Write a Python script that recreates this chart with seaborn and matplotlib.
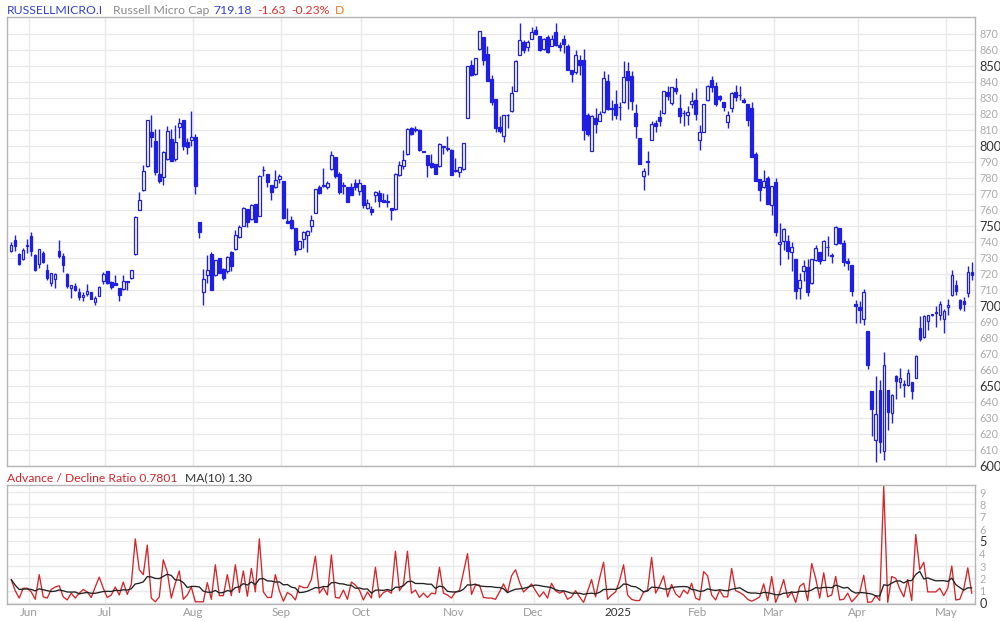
import numpy as np
import pandas as pd
import matplotlib
matplotlib.use("Agg")
import matplotlib.pyplot as plt
import seaborn as sns

sns.set_style("white")
plt.rcParams["font.family"] = ["Lato", "DejaVu Sans"]

# ---------------- data ----------------
session_start = "2024-05-24"
session_end = "2025-05-09"
market_holidays = ["2024-05-27", "2024-06-19", "2024-07-04", "2024-09-02", "2024-11-28",
                   "2024-12-25", "2025-01-01", "2025-01-09", "2025-01-20", "2025-02-17"]

opens = [734.6, 741.5, 732.7, 729.4, 737.5, 743.5, 732.1, 726.3, 733.1, 722.7,
         714.4, 716.9, 734.6, 731.5, 720.2, 711.3, 712.7, 709.0, 705.6, 707.3,
         708.8, 702.5, 706.5, 715.8, 721.7, 714.8, 714.4, 711.3, 710.6, 715.4,
         717.5, 732.5, 759.8, 772.7, 787.3, 808.8, 803.3, 782.7, 780.6, 792.1,
         804.4, 792.1, 811.9, 816.5, 802.5, 803.5, 805.6, 752.5, 708.5, 719.4,
         732.5, 719.2, 730.0, 723.1, 721.7, 733.5, 735.8, 743.1, 750.2, 760.8,
         754.6, 764.0, 756.5, 785.0, 782.7, 775.8, 774.4, 779.5, 777.9, 753.3,
         754.0, 749.0, 735.4, 741.9, 744.4, 749.8, 758.1, 774.2, 775.2, 774.4,
         785.6, 792.9, 782.7, 775.6, 774.4, 774.4, 776.9, 771.7, 775.4, 761.0,
         760.8, 769.2, 770.8, 766.5, 765.2, 761.3, 760.6, 782.1, 787.3, 795.0,
         811.3, 810.2, 810.2, 796.9, 794.6, 789.4, 789.0, 787.3, 800.2, 798.5,
         797.7, 785.2, 783.8, 785.6, 817.3, 850.4, 845.2, 860.6, 868.1, 857.7,
         842.1, 829.6, 811.9, 806.0, 819.4, 821.7, 834.2, 857.1, 864.8, 861.9,
         867.1, 872.7, 869.0, 860.6, 868.1, 862.7, 871.3, 863.3, 867.1, 862.7,
         847.3, 846.0, 854.0, 854.0, 819.6, 796.7, 817.5, 815.4, 821.0, 840.4,
         823.3, 826.5, 824.4, 827.3, 846.7, 844.0, 820.6, 805.0, 781.0, 790.0,
         803.5, 814.4, 818.1, 820.6, 833.8, 826.9, 836.3, 823.8, 820.4, 819.2,
         826.3, 829.0, 803.5, 808.8, 828.5, 841.5, 837.7, 831.0, 827.3, 815.0,
         823.8, 833.5, 831.9, 829.0, 826.5, 823.8, 795.0, 779.6, 774.2, 780.0,
         762.9, 777.5, 738.8, 740.4, 740.8, 733.5, 729.6, 711.3, 721.7, 724.4,
         714.4, 729.0, 733.8, 729.0, 736.9, 731.7, 738.9, 748.8, 739.4, 727.9,
         725.8, 701.3, 699.2, 691.9, 684.6, 647.1, 616.5, 647.7, 609.2, 647.7,
         633.1, 656.0, 652.3, 651.5, 650.8, 652.3, 655.0, 686.3, 680.4, 690.4,
         694.4, 695.6, 694.6, 691.9, 699.4, 707.1, 713.3, 703.5, 703.3, 708.1, 721.5]

highs = [739.8, 744.6, 733.0, 736.3, 741.9, 746.0, 732.5, 735.8, 734.2, 726.5,
         720.8, 720.8, 741.5, 733.1, 720.4, 713.3, 714.4, 711.3, 708.8, 714.0,
         708.8, 706.0, 712.3, 721.0, 722.1, 715.4, 719.2, 711.3, 719.2, 715.6,
         722.7, 756.0, 771.5, 788.1, 816.5, 819.2, 810.8, 810.8, 797.1, 812.7,
         810.8, 813.3, 817.5, 816.5, 805.0, 821.7, 807.5, 752.5, 723.3, 732.0,
         733.5, 728.5, 730.0, 723.8, 731.0, 734.4, 747.7, 750.8, 761.9, 760.8,
         763.8, 764.0, 782.1, 787.7, 782.7, 775.8, 785.2, 782.5, 777.9, 761.3,
         756.5, 749.0, 740.8, 746.7, 747.7, 757.1, 773.1, 775.8, 786.3, 778.0,
         797.1, 793.0, 784.0, 777.3, 774.4, 776.9, 779.6, 779.4, 775.4, 766.9,
         762.7, 771.7, 772.7, 770.6, 770.2, 761.3, 783.0, 790.4, 797.3, 811.3,
         812.0, 812.3, 810.6, 796.9, 794.6, 795.0, 789.0, 801.9, 800.2, 806.5,
         798.0, 792.5, 786.7, 801.9, 850.2, 854.0, 855.0, 872.1, 868.1, 862.3,
         844.6, 829.6, 818.5, 819.6, 820.0, 837.3, 854.0, 876.9, 866.5, 866.5,
         874.4, 874.8, 869.0, 867.5, 869.6, 869.6, 876.9, 864.8, 869.6, 864.0,
         847.7, 860.2, 857.1, 860.6, 820.6, 819.6, 823.8, 821.7, 847.0, 845.0,
         829.0, 834.8, 827.3, 852.9, 852.5, 846.7, 826.3, 805.0, 786.3, 796.7,
         815.8, 816.5, 822.7, 834.2, 837.3, 836.9, 842.5, 832.7, 822.7, 824.8,
         833.8, 836.3, 813.3, 826.3, 838.3, 844.0, 840.2, 832.0, 827.3, 821.7,
         833.8, 837.9, 837.7, 830.0, 826.5, 827.5, 796.0, 779.6, 785.2, 781.5,
         775.2, 780.0, 751.9, 748.8, 744.6, 739.8, 729.6, 720.6, 728.9, 729.4,
         729.4, 738.3, 733.8, 741.5, 743.9, 733.1, 749.8, 748.8, 741.5, 730.0,
         725.8, 703.8, 703.1, 710.6, 684.6, 647.1, 656.5, 654.0, 671.3, 647.7,
         645.0, 657.1, 661.3, 653.5, 660.6, 652.3, 669.6, 693.9, 694.6, 694.6,
         694.8, 700.2, 703.3, 698.3, 704.6, 722.3, 716.5, 704.6, 705.4, 725.2, 727.3]

lows = [734.0, 734.2, 725.5, 729.0, 733.1, 731.0, 721.7, 723.8, 726.9, 716.5,
        712.3, 711.3, 729.8, 721.0, 711.3, 704.8, 709.6, 704.0, 702.9, 706.5,
        704.6, 700.4, 706.0, 714.0, 714.0, 710.6, 712.9, 702.9, 710.2, 709.8,
        717.1, 732.1, 759.8, 772.1, 787.0, 799.2, 782.1, 776.9, 775.6, 791.0,
        790.4, 790.4, 805.0, 797.7, 795.0, 799.8, 770.0, 742.5, 700.4, 714.6,
        709.8, 719.0, 720.8, 716.5, 720.6, 721.9, 735.2, 742.5, 749.8, 749.4,
        754.0, 752.5, 756.0, 781.0, 774.4, 766.3, 773.8, 777.0, 754.4, 751.9,
        748.3, 732.1, 735.4, 736.3, 733.8, 746.0, 758.1, 770.2, 774.4, 773.0,
        785.2, 780.0, 770.0, 770.2, 764.8, 769.2, 772.3, 769.6, 761.3, 760.8,
        756.7, 764.8, 761.9, 765.0, 761.9, 754.0, 760.0, 781.5, 785.6, 794.6,
        807.0, 808.5, 796.7, 796.0, 780.6, 786.3, 782.7, 786.9, 795.0, 796.7,
        781.7, 783.5, 780.4, 785.2, 817.3, 844.0, 844.6, 860.2, 850.8, 840.4,
        825.8, 808.5, 808.1, 802.5, 811.3, 821.0, 834.2, 856.7, 858.0, 859.6,
        867.1, 869.6, 859.2, 860.2, 858.1, 862.3, 862.7, 859.6, 858.1, 847.7,
        840.0, 845.2, 844.6, 804.0, 806.0, 796.7, 808.1, 815.4, 820.6, 822.7,
        816.5, 816.9, 816.5, 826.9, 823.1, 822.7, 805.0, 788.8, 772.7, 781.7,
        803.5, 808.5, 812.3, 820.2, 829.0, 825.4, 832.7, 814.4, 812.3, 813.3,
        823.8, 816.5, 797.3, 808.8, 827.9, 833.8, 824.8, 828.0, 821.7, 811.3,
        821.3, 827.9, 828.5, 826.9, 812.3, 792.9, 777.9, 765.4, 773.8, 764.0,
        757.1, 743.9, 725.8, 734.8, 729.6, 721.7, 704.4, 704.6, 715.4, 706.5,
        714.0, 727.9, 726.3, 728.5, 731.0, 726.9, 738.3, 739.0, 724.8, 722.7,
        706.5, 689.4, 689.4, 688.3, 660.8, 619.0, 602.3, 608.1, 603.5, 622.3,
        626.9, 641.9, 648.8, 643.1, 649.8, 641.9, 655.0, 677.9, 680.0, 685.2,
        694.0, 686.7, 691.5, 683.1, 694.6, 706.5, 707.1, 697.3, 696.7, 705.6, 716.5]

closes = [738.3, 737.3, 726.0, 735.2, 738.0, 734.2, 722.7, 735.6, 727.3, 717.5,
          720.6, 720.0, 731.0, 725.4, 712.3, 713.1, 709.8, 705.6, 707.1, 709.4,
          704.6, 705.0, 711.9, 720.0, 714.4, 711.9, 712.9, 706.7, 715.8, 715.2,
          722.7, 755.4, 766.5, 784.6, 816.5, 805.4, 783.5, 777.9, 796.3, 809.2,
          790.4, 802.5, 814.4, 799.8, 799.4, 805.4, 774.8, 746.0, 716.9, 722.5,
          709.8, 728.5, 720.8, 717.5, 730.4, 725.2, 744.6, 749.4, 761.3, 752.5,
          762.9, 752.5, 781.5, 784.8, 777.3, 771.0, 778.5, 781.2, 755.0, 751.9,
          748.8, 735.2, 740.8, 746.3, 747.1, 754.0, 773.1, 770.6, 775.6, 776.9,
          794.6, 781.0, 771.0, 775.2, 764.8, 769.6, 774.2, 776.9, 762.9, 764.6,
          758.5, 771.3, 765.8, 765.2, 765.0, 760.2, 782.7, 787.9, 791.5, 810.8,
          807.7, 810.0, 797.3, 796.0, 787.9, 786.7, 782.7, 801.5, 799.2, 798.3,
          781.7, 784.2, 786.7, 801.9, 850.2, 844.6, 855.0, 871.7, 854.0, 840.4,
          827.3, 811.0, 809.2, 819.6, 819.2, 833.1, 853.3, 866.5, 859.8, 865.0,
          871.3, 870.2, 859.8, 867.1, 858.5, 867.1, 862.9, 861.7, 864.0, 847.7,
          845.0, 857.1, 850.4, 809.8, 807.7, 818.5, 814.0, 820.2, 842.5, 823.1,
          823.1, 819.6, 824.2, 843.1, 841.0, 827.9, 812.3, 788.8, 784.6, 790.0,
          813.9, 812.7, 815.4, 834.2, 831.0, 836.9, 834.2, 818.5, 820.6, 821.3,
          827.9, 820.2, 808.8, 826.3, 837.3, 836.9, 826.3, 829.6, 824.4, 819.6,
          833.1, 830.6, 831.7, 827.5, 816.5, 792.9, 777.9, 772.3, 778.3, 764.0,
          775.2, 746.0, 740.0, 748.1, 734.2, 736.9, 709.2, 716.5, 724.8, 708.8,
          729.4, 736.3, 728.3, 740.8, 736.7, 731.5, 749.4, 739.4, 727.5, 726.9,
          709.2, 699.8, 697.7, 708.8, 662.9, 635.6, 632.7, 614.8, 663.3, 633.5,
          644.6, 652.9, 655.0, 650.6, 658.1, 646.7, 668.5, 679.4, 694.0, 694.6,
          694.6, 695.8, 701.3, 696.7, 700.4, 719.6, 709.2, 698.8, 701.3, 721.3, 719.2]

ad_ratio = [1.9, 1.0, 0.4, 1.2, 1.2, 0.9, 0.3, 2.3, 0.5, 0.4,
            1.1, 1.3, 1.4, 0.5, 0.25, 0.8, 0.4, 0.8, 1.1, 0.9,
            0.45, 1.3, 2.1, 1.2, 0.45, 0.65, 1.3, 0.65, 1.7, 0.7,
            1.5, 5.2, 2.7, 2.3, 4.7, 0.4, 0.1, 0.5, 3.5, 2.5,
            0.4, 1.6, 2.6, 0.3, 0.65, 1.3, 0.1, 0.1, 0.1, 1.65,
            0.3, 3.1, 0.6, 0.6, 2.3, 0.6, 3.1, 0.85, 2.6, 0.55,
            2.8, 0.9, 5.2, 0.9, 0.45, 0.45, 2.3, 1.0, 0.15, 0.85,
            0.65, 0.25, 1.4, 1.25, 1.25, 1.9, 3.8, 0.8, 1.25, 0.65,
            3.9, 0.45, 0.4, 1.05, 0.3, 1.7, 1.45, 1.05, 0.25, 0.9,
            0.4, 2.9, 0.45, 0.85, 1.0, 0.8, 4.2, 1.0, 1.5, 4.2,
            0.8, 1.05, 0.45, 0.8, 0.45, 0.8, 0.75, 2.9, 0.8, 0.65,
            0.4, 0.9, 1.0, 2.5, 4.0, 0.7, 1.45, 1.45, 0.45, 0.4,
            0.4, 0.3, 0.9, 1.55, 0.85, 2.2, 2.7, 1.7, 0.9, 1.2,
            1.55, 1.0, 0.5, 0.9, 0.4, 1.6, 1.0, 0.8, 0.95, 0.3,
            0.5, 1.0, 0.5, 0.05, 0.95, 1.9, 0.5, 2.0, 3.3, 0.3,
            0.65, 0.9, 1.8, 3.1, 0.65, 0.3, 0.2, 0.2, 0.9, 1.05,
            3.7, 0.8, 1.4, 2.2, 0.5, 1.5, 0.75, 0.45, 1.05, 0.75,
            1.6, 0.4, 0.25, 2.55, 2.2, 0.65, 0.25, 1.05, 0.5, 0.5,
            2.8, 1.0, 0.85, 0.65, 0.3, 0.15, 0.3, 0.5, 1.55, 0.2,
            2.15, 0.05, 0.85, 1.9, 0.45, 0.9, 0.05, 1.35, 1.6, 0.2,
            3.2, 2.0, 0.4, 2.45, 0.5, 0.65, 2.15, 0.25, 0.3, 0.8,
            0.1, 0.45, 0.85, 2.25, 0.05, 0.1, 0.6, 0.2, 9.45, 0.05,
            2.15, 2.0, 1.15, 0.5, 1.9, 0.2, 5.55, 2.7, 3.3, 0.9,
            0.9, 0.9, 1.2, 0.6, 1.2, 3.0, 0.25, 0.3, 1.15, 2.85, 0.78]

month_labels = ["Jun", "Jul", "Aug", "Sep", "Oct", "Nov", "Dec", "2025", "Feb", "Mar", "Apr", "May"]

header_parts = [("RUSSELLMICRO.I", "#3343cf"), ("Russell Micro Cap", "#8a8a8a"),
                ("719.18", "#3343cf"), ("-1.63", "#e2322f"), ("-0.23%", "#e2322f"),
                ("D", "#f47a1f")]

# ---------------- derived ----------------
o = np.array(opens); h = np.array(highs); l = np.array(lows); c = np.array(closes)
n = len(c)
x = np.arange(n)
h = np.maximum(h, np.maximum(o, c))
l = np.minimum(l, np.minimum(o, c))

dates = pd.bdate_range(session_start, session_end)
dates = dates[~dates.isin(pd.to_datetime(market_holidays))][:n]
per = pd.Series(dates).dt.to_period("M").values
month_bounds = [i - 0.5 for i in range(1, len(per)) if per[i] != per[i - 1]]

ad = pd.Series(ad_ratio)
ma10 = ad.rolling(10, min_periods=1).mean()
df_ad = pd.DataFrame({"x": x, "ad": ad.values, "ma": ma10.values})

# ---------------- figure ----------------
W, H = 1000, 622
fig = plt.figure(figsize=(W / 100, H / 100), dpi=100)


def fx(px):
    return px / W


def fy(py):
    return 1 - py / H


ax = fig.add_axes([fx(7), fy(466), fx(975) - fx(7), fy(17) - fy(466)])
ax2 = fig.add_axes([fx(7), fy(604), fx(975) - fx(7), fy(485) - fy(604)])

blue = "#1f1fe3"
grid_c = "#e9e9e9"
spine_c = "#b5b5b5"

# candles
ax.vlines(x, l, h, color=blue, linewidth=1.0, zorder=2)
up = c >= o
body_bottom = np.minimum(o, c)
body_h = np.maximum(np.abs(c - o), 0.35)
ax.bar(x[up], body_h[up], bottom=body_bottom[up], width=0.62, color="white",
       edgecolor=blue, linewidth=0.9, zorder=3)
ax.bar(x[~up], body_h[~up], bottom=body_bottom[~up], width=0.62, color=blue,
       edgecolor=blue, linewidth=0.9, zorder=3)

ax.set_xlim(-1.05, n - 1 + 0.8)
ax.set_ylim(600, 880.6)
ax.set_yticks(np.arange(600, 871, 10))
ax.set_xticks(month_bounds)
ax.grid(True, color=grid_c, linewidth=1.0, zorder=0)
ax.set_axisbelow(True)
ax.yaxis.tick_right()
ax.tick_params(axis="y", length=0, pad=3)
ax.tick_params(axis="x", length=0, labelbottom=False)
for t, v in zip(ax.get_yticklabels(), np.arange(600, 871, 10)):
    if v % 50 == 0:
        t.set_color("#333333"); t.set_fontsize(9.2)
    else:
        t.set_color("#ababab"); t.set_fontsize(7.8)
for s in ax.spines.values():
    s.set_color(spine_c); s.set_linewidth(1.0)

# advance / decline panel
sns.lineplot(data=df_ad, x="x", y="ad", ax=ax2, color="#d3262a", linewidth=0.95, zorder=3)
sns.lineplot(data=df_ad, x="x", y="ma", ax=ax2, color="#222222", linewidth=0.95, zorder=4)
ax2.set_xlim(-1.05, n - 1 + 0.8)
ax2.set_ylim(-0.08, 9.57)
ax2.set_yticks(np.arange(0, 10, 1))
ax2.set_xticks(month_bounds)
ax2.set_xticklabels(month_labels)
ax2.set_xlabel(""); ax2.set_ylabel("")
ax2.grid(True, color=grid_c, linewidth=1.0, zorder=0)
ax2.set_axisbelow(True)
ax2.yaxis.tick_right()
ax2.tick_params(axis="y", length=0, pad=3)
ax2.tick_params(axis="x", length=0, pad=2)
for t, v in zip(ax2.get_yticklabels(), range(10)):
    if v % 5 == 0:
        t.set_color("#333333"); t.set_fontsize(9.2)
    else:
        t.set_color("#ababab"); t.set_fontsize(7.8)
for t, lab in zip(ax2.get_xticklabels(), month_labels):
    t.set_fontsize(8.4)
    t.set_color("#333333" if lab.isdigit() else "#9a9a9a")
for s in ax2.spines.values():
    s.set_color(spine_c); s.set_linewidth(1.0)

ax.set_ylabel(""); ax.set_xlabel("")

# header texts
xpos = [7, 113, 213, 257, 291, 335]
for (txt, col), px in zip(header_parts, xpos):
    fig.text(fx(px), fy(10), txt, color=col, fontsize=8.8, va="center", ha="left")

fig.text(fx(7), fy(478), "Advance / Decline Ratio 0.7801", color="#d3262a",
         fontsize=8.7, va="center", ha="left")
fig.text(fx(185), fy(478), "MA(10) 1.30", color="#333333", fontsize=8.7,
         va="center", ha="left")

fig.savefig("out.png", dpi=100)
